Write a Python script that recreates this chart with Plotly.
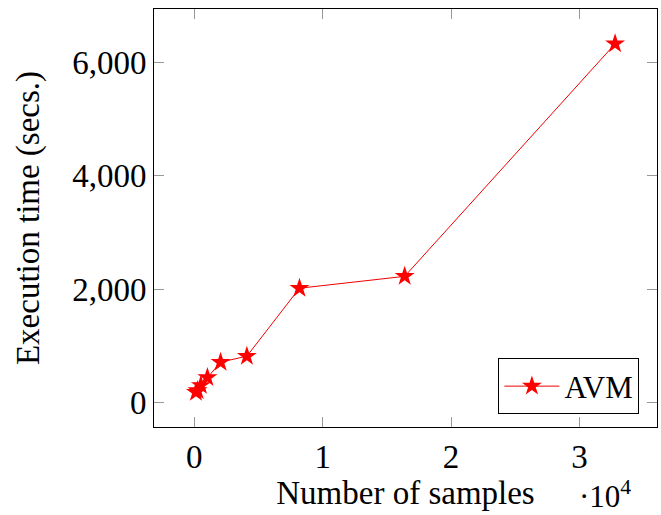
import plotly.graph_objects as go

samples = [128, 256, 512, 1024, 2048, 4096, 8192, 16384, 32768]
exec_time = [180, 210, 300, 440, 710, 815, 2015, 2225, 6330]
series_name = "AVM"
x_ticks = [0, 10000, 20000, 30000]
x_ticklabels = ["0", "1", "2", "3"]
y_ticks = [0, 2000, 4000, 6000]
y_ticklabels = ["0", "2,000", "4,000", "6,000"]

font_family = "Liberation Serif, DejaVu Serif, serif"

fig = go.Figure()
fig.add_trace(go.Scatter(
    x=samples, y=exec_time, mode="lines+markers", name=series_name,
    line=dict(color="#ee0000", width=1),
    marker=dict(symbol="star", size=15, color="#ff0000", line=dict(width=0)),
))

xmin, xmax = min(samples), max(samples)
ymin, ymax = min(exec_time), max(exec_time)
xpad = 0.1 * (xmax - xmin)
ypad = 0.1 * (ymax - ymin)

fig.update_layout(
    width=661, height=515,
    margin=dict(l=154, r=4, t=9, b=88),
    paper_bgcolor="white", plot_bgcolor="white",
    font=dict(family=font_family, size=30, color="black"),
    showlegend=True,
    legend=dict(x=0.965, y=0.03, xanchor="right", yanchor="bottom",
                bordercolor="black", borderwidth=1, bgcolor="white",
                font=dict(size=31), itemwidth=55),
    xaxis=dict(range=[xmin - xpad, xmax + xpad], tickvals=x_ticks, ticktext=x_ticklabels,
               ticks="inside", ticklen=10, tickcolor="#999", tickwidth=1,
               showline=True, linecolor="black", linewidth=1, mirror="allticks",
               showgrid=False, zeroline=False, tickfont=dict(size=33),
               title=dict(text="Number of samples", standoff=6, font=dict(size=33))),
    yaxis=dict(range=[ymin - ypad, ymax + ypad], tickvals=y_ticks, ticktext=y_ticklabels,
               ticks="inside", ticklen=10, tickcolor="#999", tickwidth=1,
               showline=True, linecolor="black", linewidth=1, mirror="allticks",
               showgrid=False, zeroline=False, tickfont=dict(size=33),
               title=dict(text="Execution time (secs.)", standoff=22, font=dict(size=33))),
    annotations=[dict(text="·10<sup>4</sup>", xref="paper", yref="paper",
                      x=0.897, y=-0.11, xanchor="center", yanchor="top",
                      showarrow=False, font=dict(size=31))],
)

fig.write_html("out.html")
